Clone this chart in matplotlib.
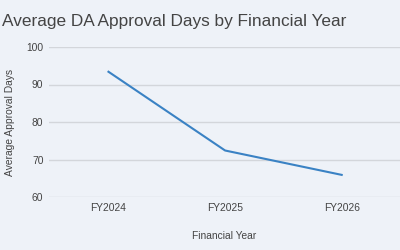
import matplotlib
matplotlib.use('Agg')
import matplotlib.pyplot as plt

years = ['FY2024', 'FY2025', 'FY2026']
avg_days = [93.4, 72.4, 65.9]
y_ticks = [60, 70, 80, 90, 100]

bg = '#eef2f8'
text_color = '#444444'

plt.rcParams['font.family'] = ['Liberation Sans', 'DejaVu Sans']

fig = plt.figure(figsize=(4, 2.5), dpi=100, facecolor=bg)
ax = fig.add_axes([0.1225, 0.212, 0.8775, 0.6])
ax.set_facecolor(bg)

ax.plot(range(len(years)), avg_days, color='#3a82c4', linewidth=1.5)

ax.set_xlim(-0.51, 2.5)
ax.set_ylim(60, 100)
ax.set_yticks(y_ticks)
ax.set_xticks(range(len(years)))
ax.set_xticklabels(years)
ax.grid(axis='y', color='#d3d6db', linewidth=1)
ax.set_axisbelow(True)
for s in ax.spines.values():
    s.set_visible(False)
ax.tick_params(length=0, labelsize=7.4, colors=text_color, pad=4)

ax.set_xlabel('Financial Year', fontsize=7.4, color=text_color, labelpad=13)
ax.set_ylabel('Average Approval Days', fontsize=7.4, color=text_color, labelpad=8)
fig.text(0.005, 0.915, 'Average DA Approval Days by Financial Year',
         fontsize=12.4, color=text_color, ha='left', va='center')

fig.savefig('out.png', dpi=100, facecolor=bg)
